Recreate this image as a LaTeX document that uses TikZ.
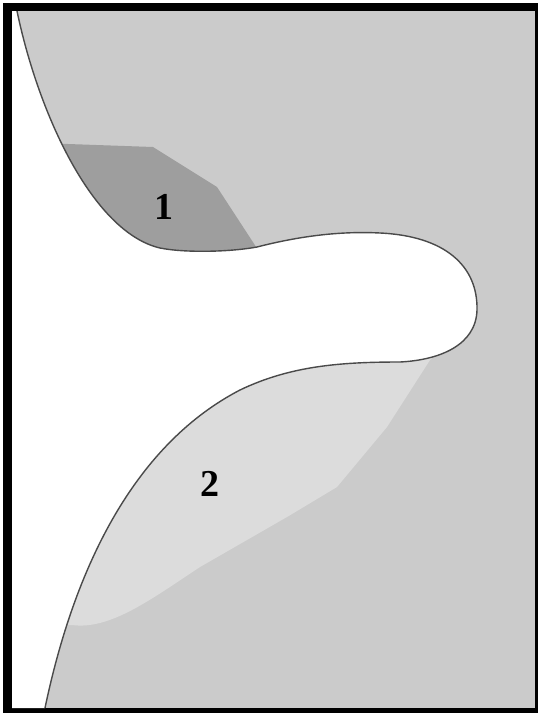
\documentclass[tikz,border=0pt]{standalone}
\usepackage{fontspec}
\setmainfont{Liberation Serif}
\definecolor{bodygray}{HTML}{CBCBCB}
\definecolor{zoneone}{HTML}{9E9E9E}
\definecolor{zonetwo}{HTML}{DCDCDC}
\definecolor{edgegray}{HTML}{4A4A4A}
\tikzset{
  outline/.style={draw=edgegray, line width=1.4pt, line join=round},
  zonelabel/.style={font=\bfseries\fontsize{38}{38}\selectfont, inner sep=0pt}
}
% profile curve of the free region, from the top edge to the bottom edge
\def\profile{(17,11) .. controls (38,112) and (92,232) .. (160,248)
  .. controls (185,253) and (230,252) .. (257,247)
  .. controls (300,236) and (340,231) .. (380,233)
  .. controls (445,236) and (478,266) .. (477,310)
  .. controls (476,345) and (440,360) .. (400,362)
  .. controls (340,362) and (290,366) .. (240,390)
  .. controls (138,443) and (76,560) .. (45,708)}
\begin{document}
\begin{tikzpicture}[x=1pt, y=-1pt]
\useasboundingbox (0,0) rectangle (538,718);
% frame and solid body
\fill[black] (3,3) rectangle (538,713);
\fill[bodygray] (12,11) rectangle (535,708);
% zone 1 (dark)
\fill[zoneone] (40,143) -- (153,147) -- (217,187) -- (262,256) -- (40,256) -- cycle;
% zone 2 (light)
\fill[zonetwo] (450,340) -- (430,360) -- (387,427) -- (337,487) -- (287,517)
  -- (200,567) .. controls (150,600) and (110,630) .. (72,625) -- (20,625) -- (20,340) -- cycle;
% free (white) region bounded by the profile curve
\fill[white] (12,11) -- \profile -- (12,708) -- cycle;
% profile curve
\draw[outline] \profile;
% labels
\node[zonelabel] (one) at (164,207) {1};
\node[zonelabel] (two) at (210,484) {2};
\end{tikzpicture}
\end{document}
